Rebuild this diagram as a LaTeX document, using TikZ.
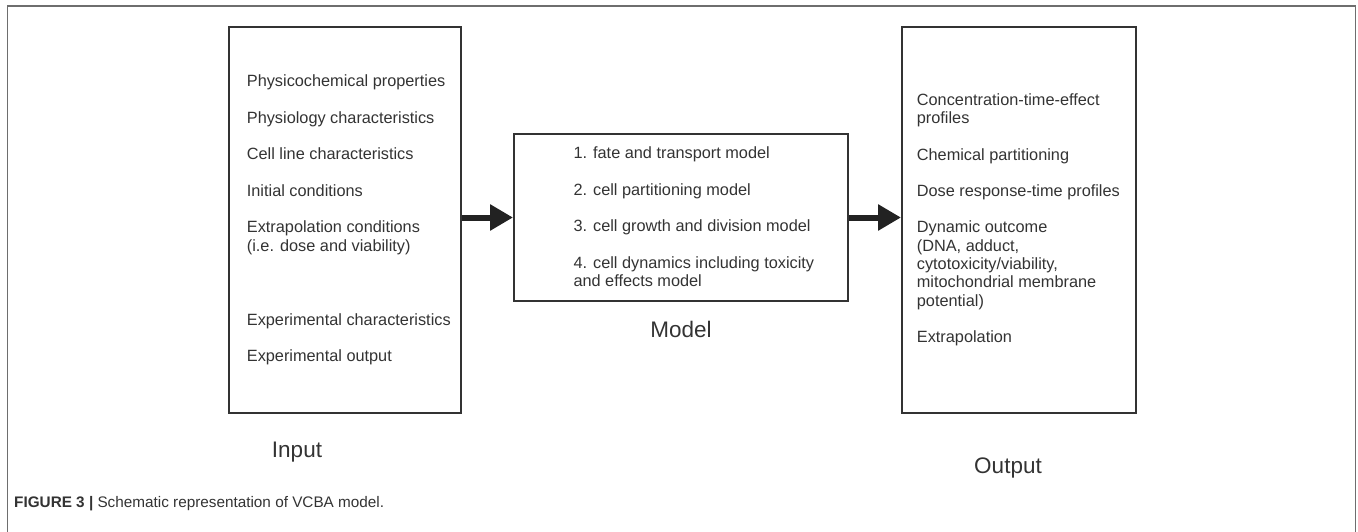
\documentclass[tikz,border=0pt]{standalone}
\usepackage{fontspec}
\setmainfont{Liberation Sans}
\usetikzlibrary{arrows.meta}
\definecolor{ink}{HTML}{333333}
\definecolor{frame}{HTML}{6E6E6E}
\definecolor{arr}{HTML}{222222}
\begin{document}
\begin{tikzpicture}[x=1pt,y=-1pt,
  box/.style={draw=ink, line width=2pt, rectangle, inner sep=0pt},
  txt/.style={anchor=base west, inner sep=0pt, text=ink, font=\fontsize{16.3}{18.35}\selectfont},
  lbl/.style={anchor=base, inner sep=0pt, text=ink, font=\fontsize{22.5}{26}\selectfont},
  bigarrow/.style={draw=arr, line width=6pt, -{Triangle[length=23pt,width=25pt]}}]
\useasboundingbox (0,0) rectangle (1358,532);
% outer frame (open at the bottom)
\draw[frame, line width=1.5pt] (7.5,540) -- (7.5,6) -- (1355.5,6) -- (1355.5,540);
% boxes
\node[box, minimum width=232.5pt, minimum height=386.3pt] (inbox) at (344.75,219.85) {};
\node[box, minimum width=334pt, minimum height=167pt] (model) at (681,217.5) {};
\node[box, minimum width=234pt, minimum height=386pt] (outbox) at (1019,220) {};
% input texts
\node[txt] (i1) at (246.7,86.7) {Physicochemical properties};
\node[txt] (i2) at (246.7,123.2) {Physiology characteristics};
\node[txt] (i3) at (246.7,159.7) {Cell line characteristics};
\node[txt] (i4) at (246.7,196.2) {Initial conditions};
\node[txt] (i5) at (246.7,232.9) {Extrapolation conditions};
\node[txt] (i6) at (246.7,251.3) {(i.e. dose and viability)};
\node[txt] (i7) at (246.7,325) {Experimental characteristics};
\node[txt] (i8) at (246.7,361.6) {Experimental output};
% model texts
\node[txt] (m1) at (573.3,158.3) {1. fate and transport model};
\node[txt] (m2) at (573.3,195) {2. cell partitioning model};
\node[txt] (m3) at (573.3,231.7) {3. cell growth and division model};
\node[txt] (m4) at (573.3,268.3) {4. cell dynamics including toxicity};
\node[txt] (m5) at (573.3,286.7) {and effects model};
% output texts
\node[txt] (o1) at (916.7,105.7) {Concentration-time-effect};
\node[txt] (o2) at (916.7,124) {profiles};
\node[txt] (o3) at (916.7,160.2) {Chemical partitioning};
\node[txt] (o4) at (916.7,196.7) {Dose response-time profiles};
\node[txt] (o5) at (916.7,232.8) {Dynamic outcome};
\node[txt] (o6) at (916.7,251.1) {(DNA, adduct,};
\node[txt] (o7) at (916.7,269.4) {cytotoxicity/viability,};
\node[txt] (o8) at (916.7,287.7) {mitochondrial membrane};
\node[txt] (o9) at (916.7,306) {potential)};
\node[txt] (o10) at (916.7,342.2) {Extrapolation};
% labels
\node[lbl] (lin) at (297,457) {Input};
\node[lbl] (lmodel) at (681,337) {Model};
\node[lbl] (lout) at (1008,473) {Output};
% arrows
\draw[bigarrow] (inbox.east |- model.west) -- (model.west);
\draw[bigarrow] (model.east) -- (model.east -| outbox.west);
% caption
\node[anchor=base west, inner sep=0pt, text=ink, font=\fontsize{15.3}{18}\selectfont] (cap) at (14,507.3) {\textbf{FIGURE 3 |} Schematic representation of VCBA model.};
\end{tikzpicture}
\end{document}
